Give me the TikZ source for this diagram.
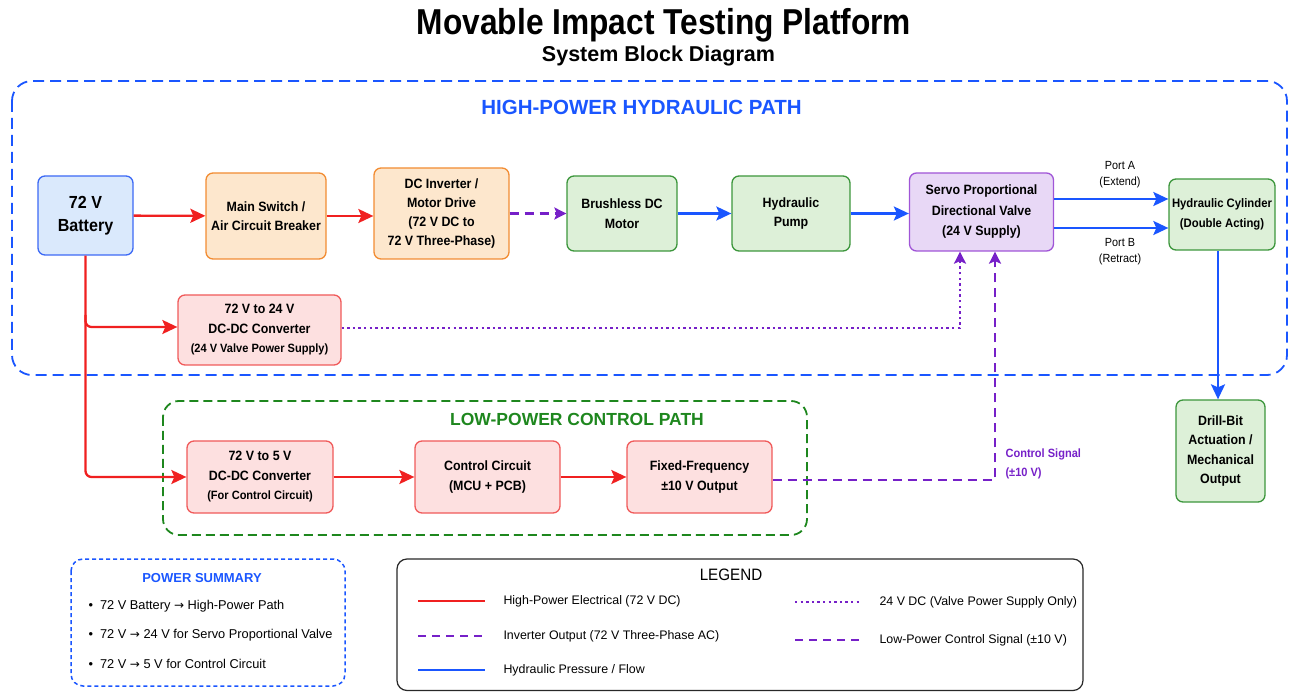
\documentclass[tikz,border=0pt]{standalone}
\usepackage{fontspec}
\setmainfont{Liberation Sans}
\newfontfamily\narrowfont[FakeStretch=0.92]{Liberation Sans}
\newfontfamily\titlefont[FakeStretch=0.88]{Liberation Sans}
\newfontfamily\symfont{DejaVu Sans}
\usetikzlibrary{arrows.meta}

% palette
\definecolor{pwrred}{RGB}{240,32,32}
\definecolor{hydblue}{RGB}{26,86,255}
\definecolor{sigpurple}{RGB}{118,32,200}
\definecolor{ctrlgreen}{RGB}{30,135,30}
\definecolor{batfill}{RGB}{218,233,252}
\definecolor{batdraw}{RGB}{60,105,245}
\definecolor{orfill}{RGB}{253,231,205}
\definecolor{ordraw}{RGB}{242,140,50}
\definecolor{grfill}{RGB}{221,240,216}
\definecolor{grdraw}{RGB}{60,150,60}
\definecolor{pufill}{RGB}{232,216,246}
\definecolor{pudraw}{RGB}{160,85,215}
\definecolor{pkfill}{RGB}{253,224,224}
\definecolor{pkdraw}{RGB}{240,90,90}
\definecolor{frame}{RGB}{40,40,40}

\newcommand{\toarrow}{{\symfont\fontsize{12}{15}\selectfont →}}

\begin{document}
\begin{tikzpicture}[x=1pt,y=-1pt,
  box/.style={draw, rounded corners=7pt, line width=1.3pt, align=center,
    inner sep=2pt, text=black, font=\narrowfont\bfseries\fontsize{13.5}{19.5}\selectfont},
  wh/.style 2 args={minimum width=#1pt, minimum height=#2pt},
  tip/.style={-{Stealth[length=15pt,width=14pt,inset=3pt]}},
  smalltip/.style={-{Stealth[length=12pt,width=12pt,inset=2.5pt]}},
  redline/.style={draw=pwrred, line width=2.3pt},
  blueline/.style={draw=hydblue, line width=2.3pt},
  invline/.style={draw=sigpurple, line width=2.2pt, dash pattern=on 9pt off 6pt},
  ctlline/.style={draw=sigpurple, line width=2.2pt, dash pattern=on 9pt off 6pt},
  vline/.style={draw=sigpurple, line width=2.2pt, dash pattern=on 2.4pt off 3.2pt},
  legtext/.style={anchor=west, font=\fontsize{12.4}{15}\selectfont, text=black},
  sumtext/.style={anchor=west, font=\fontsize{12.8}{15}\selectfont, text=black},
  portlbl/.style={align=center, font=\narrowfont\fontsize{11.8}{16}\selectfont, text=black}
]
\useasboundingbox (0,0) rectangle (1291,692);

% ---------- headings ----------
\node[anchor=base, font=\titlefont\bfseries\fontsize{36}{40}\selectfont] (title) at (664,35) {Movable Impact Testing Platform};
\node[anchor=base, font=\bfseries\fontsize{21.5}{24}\selectfont] (subtitle) at (658.5,62) {System Block Diagram};

% ---------- grouping frames ----------
\draw[hydblue, line width=1.8pt, dash pattern=on 11pt off 6pt, rounded corners=20pt] (12,81) rectangle (1287,375);
\node[anchor=base, text=hydblue, font=\bfseries\fontsize{20.5}{24}\selectfont] (hptitle) at (641.5,115) {HIGH-POWER HYDRAULIC PATH};

\draw[ctrlgreen, line width=1.8pt, dash pattern=on 9pt off 5pt, rounded corners=16pt] (163,401) rectangle (807,535);
\node[anchor=base, text=ctrlgreen, font=\bfseries\fontsize{17.5}{20}\selectfont] (lptitle) at (577,426) {LOW-POWER CONTROL PATH};

% ---------- high-power row ----------
\node[box, fill=batfill, draw=batdraw, wh={95}{79}, font=\narrowfont\bfseries\fontsize{17.5}{23}\selectfont] (bat) at (85.5,215.5) {72 V\\Battery};
\node[box, fill=orfill, draw=ordraw, wh={120}{86}] (msw) at (266,216) {Main Switch /\\Air Circuit Breaker};
\node[box, fill=orfill, draw=ordraw, wh={135}{91}, font=\narrowfont\bfseries\fontsize{13.5}{19}\selectfont] (inv) at (441.5,213.5) {DC Inverter /\\Motor Drive\\(72 V DC to\\72 V Three-Phase)};
\node[box, fill=grfill, draw=grdraw, wh={110}{75}] (bldc) at (622,213.5) {Brushless DC\\Motor};
\node[box, fill=grfill, draw=grdraw, wh={118}{75}] (pump) at (791,213.5) {Hydraulic\\Pump};
\node[box, fill=pufill, draw=pudraw, wh={144}{78}, font=\narrowfont\bfseries\fontsize{13.5}{20.5}\selectfont] (valve) at (981.5,212) {Servo Proportional\\Directional Valve\\(24 V Supply)};
\node[box, fill=grfill, draw=grdraw, wh={106}{71}, font=\narrowfont\bfseries\fontsize{12.3}{20}\selectfont] (cyl) at (1222,214.5) {Hydraulic Cylinder\\(Double Acting)};
\node[box, fill=grfill, draw=grdraw, wh={89}{102}] (drill) at (1220.5,451) {Drill-Bit\\Actuation /\\Mechanical\\Output};

\node[box, fill=pkfill, draw=pkdraw, wh={163}{70}] (conv24) at (259.5,330) {72 V to 24 V\\DC-DC Converter\\{\fontsize{12}{19}\selectfont (24 V Valve Power Supply)}};

% ---------- low-power row ----------
\node[box, fill=pkfill, draw=pkdraw, wh={146}{72}] (conv5) at (260,477) {72 V to 5 V\\DC-DC Converter\\{\fontsize{12}{19}\selectfont (For Control Circuit)}};
\node[box, fill=pkfill, draw=pkdraw, wh={145}{72}] (ctrl) at (487.5,477) {Control Circuit\\(MCU + PCB)};
\node[box, fill=pkfill, draw=pkdraw, wh={145}{72}] (fixed) at (699.5,477) {Fixed-Frequency\\±10 V Output};

% ---------- power connections ----------
\draw[redline, tip] (bat) -- (msw);
\draw[redline, tip] (msw.east) -- (msw.east -| inv.west);
\draw[redline, tip, rounded corners=6pt] (bat.south) -- (bat.south |- conv5.west) -- (conv5.west);
\coordinate (j24) at ([yshift=3pt]bat.south |- conv24.west);
\draw[redline, tip, rounded corners=6pt] ([yshift=12pt]j24) -- (j24) -- (j24 -| conv24.west);
\draw[redline, tip] (conv5) -- (ctrl);
\draw[redline, tip] (ctrl) -- (fixed);

% ---------- inverter output ----------
\draw[invline, smalltip] (inv.east) -- (inv.east -| bldc.west);

% ---------- hydraulic flow ----------
\draw[blueline, tip] (bldc) -- (pump);
\draw[blueline, tip] (pump.east) -- (pump.east -| valve.west);
\coordinate (pa) at ([yshift=13pt]valve.east);
\coordinate (pb) at ([yshift=-16pt]valve.east);
\draw[blueline, tip] (pa) -- (pa -| cyl.west);
\draw[blueline, tip] (pb) -- (pb -| cyl.west);
\node[portlbl] (plA) at (1120,175) {Port A\\(Extend)};
\node[portlbl] (plB) at (1120,252) {Port B\\(Retract)};
\coordinate (cylout) at ([xshift=-4pt]cyl.south);
\draw[blueline, tip] (cylout) -- (cylout |- drill.north);

% ---------- valve supply and control signal ----------
\coordinate (vsup) at ([xshift=-21.5pt]valve.south);
\coordinate (vsig) at ([xshift=13.5pt]valve.south);
\coordinate (c24) at ([yshift=2pt]conv24.east);
\draw[vline, smalltip] (c24) -- (c24 -| vsup) -- (vsup);
\coordinate (fo) at ([yshift=-3pt]fixed.east);
\draw[ctlline, smalltip] (fo) -- (fo -| vsig) -- (vsig);
\node[anchor=west, align=left, text=sigpurple, font=\narrowfont\bfseries\fontsize{12}{19}\selectfont] (csl) at (1002,464) {Control Signal\\(±10 V)};

% ---------- power summary ----------
\draw[hydblue, line width=1.5pt, dash pattern=on 4pt off 3pt, rounded corners=12pt] (71,559) rectangle (345,686);
\node[text=hydblue, font=\bfseries\fontsize{13}{15}\selectfont] (pstitle) at (202,578) {POWER SUMMARY};
\node[sumtext] (ps1) at (85,606) {\textbullet\hspace{7pt}72 V Battery \toarrow\ High-Power Path};
\node[sumtext] (ps2) at (85,635) {\textbullet\hspace{7pt}72 V \toarrow\ 24 V for Servo Proportional Valve};
\node[sumtext] (ps3) at (85,664) {\textbullet\hspace{7pt}72 V \toarrow\ 5 V for Control Circuit};

% ---------- legend ----------
\draw[frame, line width=1.2pt, rounded corners=10pt] (397,559) rectangle (1083,690.5);
\node[font=\narrowfont\fontsize{16.5}{18}\selectfont] (legtitle) at (731,575) {LEGEND};
\coordinate (l1a) at (418,601); \coordinate (l1b) at (485,601);
\coordinate (l2a) at (418,636); \coordinate (l2b) at (485,636);
\coordinate (l3a) at (418,670); \coordinate (l3b) at (485,670);
\coordinate (l4a) at (795,602); \coordinate (l4b) at (861,602);
\coordinate (l5a) at (795,640); \coordinate (l5b) at (861,640);
\draw[redline] (l1a) -- (l1b);
\draw[invline, line width=2pt, dash pattern=on 8pt off 6pt] (l2a) -- (l2b);
\draw[blueline] (l3a) -- (l3b);
\draw[vline, line width=2pt] (l4a) -- (l4b);
\draw[ctlline, line width=2pt, dash pattern=on 8pt off 6pt] (l5a) -- (l5b);
\node[legtext] (lt1) at (500,601) {High-Power Electrical (72 V DC)};
\node[legtext] (lt2) at (500,636) {Inverter Output (72 V Three-Phase AC)};
\node[legtext] (lt3) at (500,670) {Hydraulic Pressure / Flow};
\node[legtext] (lt4) at (876,602) {24 V DC (Valve Power Supply Only)};
\node[legtext] (lt5) at (876,640) {Low-Power Control Signal (±10 V)};
\end{tikzpicture}
\end{document}
